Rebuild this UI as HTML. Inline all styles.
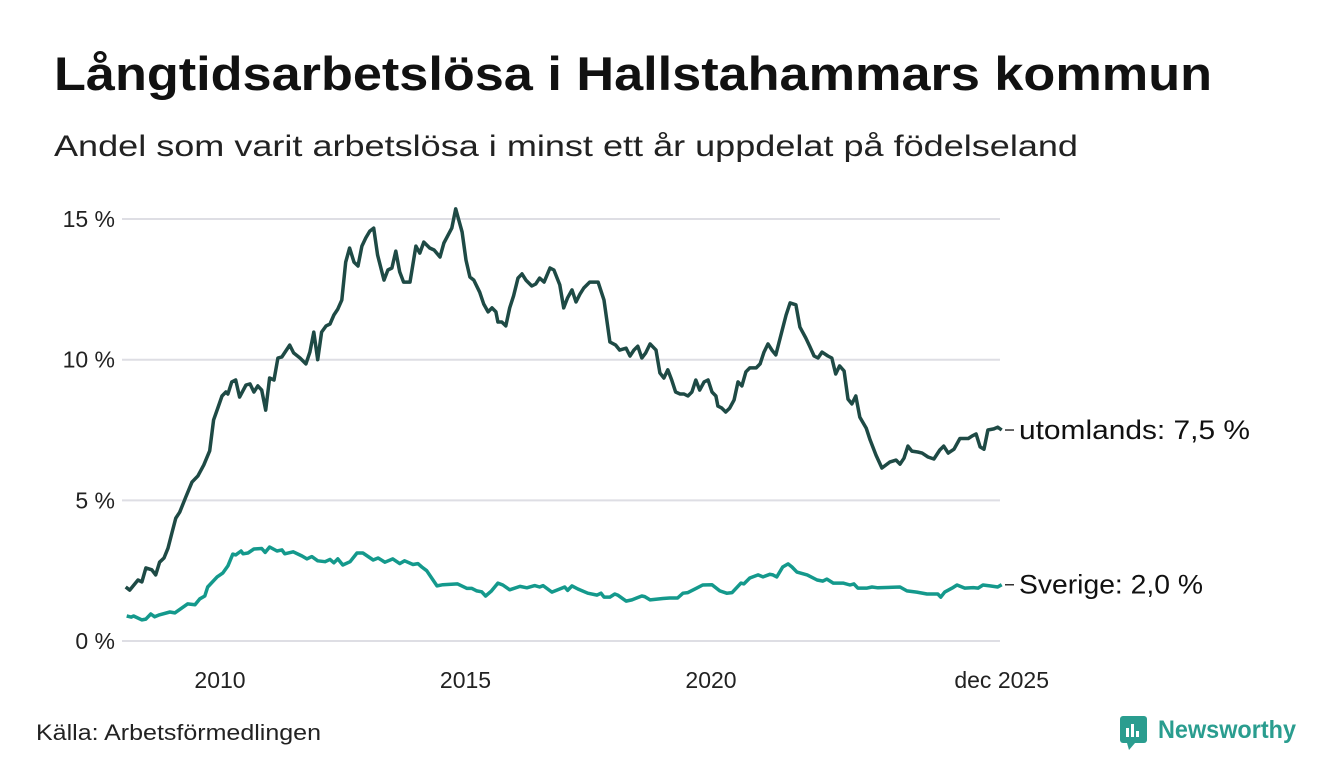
<!DOCTYPE html>
<html><head><meta charset="utf-8"><style>
body{margin:0;background:#fff;width:1340px;height:780px;overflow:hidden;font-family:"Liberation Sans",sans-serif;}
</style></head><body>
<svg width="1340" height="780" style="position:absolute;left:0;top:0">
<text x="54" y="90" font-size="47" font-weight="bold" fill="#111" textLength="1158" lengthAdjust="spacingAndGlyphs">Långtidsarbetslösa i Hallstahammars kommun</text>
<text x="54" y="156" font-size="30" fill="#222" textLength="1024" lengthAdjust="spacingAndGlyphs">Andel som varit arbetslösa i minst ett år uppdelat på födelseland</text>
<g id="grid"></g><g id="yt"></g><g id="xt"></g><g id="series"></g>
<text x="36" y="740" font-size="22" fill="#222" textLength="285" lengthAdjust="spacingAndGlyphs">Källa: Arbetsförmedlingen</text>
<g>
<rect x="1120" y="716" width="27" height="27" rx="3" fill="#2a9d8f"/>
<rect x="1126" y="728" width="3" height="9" fill="#fff"/><rect x="1131" y="724" width="3" height="13" fill="#fff"/><rect x="1136" y="731" width="3" height="6" fill="#fff"/>
<polygon points="1127,743 1135,743 1129,750" fill="#2a9d8f"/>
<text x="1158" y="738" font-size="25" font-weight="bold" fill="#2a9d8f" textLength="138" lengthAdjust="spacingAndGlyphs">Newsworthy</text></g>
</svg>
<script>
const yTicks=[0,5,10,15];
const yTickLabels=["0 %","5 %","10 %","15 %"];
const xTicks=[2010,2015,2020,2025.92];
const xTickLabels=["2010","2015","2020","dec 2025"];
const utYears=[2008.08,2008.16,2008.33,2008.41,2008.49,2008.61,2008.69,2008.77,2008.86,2008.94,2009.02,2009.10,2009.18,2009.30,2009.43,2009.55,2009.67,2009.79,2009.87,2009.96,2010.04,2010.12,2010.16,2010.24,2010.32,2010.40,2010.53,2010.61,2010.69,2010.77,2010.85,2010.93,2011.01,2011.10,2011.18,2011.26,2011.42,2011.50,2011.63,2011.75,2011.83,2011.91,2011.99,2012.07,2012.16,2012.24,2012.32,2012.40,2012.48,2012.56,2012.64,2012.73,2012.81,2012.89,2012.97,2013.05,2013.13,2013.21,2013.34,2013.42,2013.50,2013.58,2013.66,2013.74,2013.87,2013.99,2014.07,2014.15,2014.27,2014.36,2014.48,2014.56,2014.72,2014.80,2014.93,2015.01,2015.09,2015.17,2015.29,2015.37,2015.46,2015.54,2015.62,2015.66,2015.74,2015.82,2015.90,2015.98,2016.07,2016.15,2016.23,2016.35,2016.43,2016.51,2016.60,2016.72,2016.80,2016.92,2017.00,2017.08,2017.17,2017.25,2017.33,2017.41,2017.53,2017.70,2017.82,2017.94,2018.06,2018.14,2018.27,2018.35,2018.43,2018.51,2018.59,2018.67,2018.76,2018.88,2018.96,2019.04,2019.12,2019.20,2019.28,2019.37,2019.45,2019.53,2019.61,2019.69,2019.77,2019.86,2019.94,2020.02,2020.10,2020.14,2020.22,2020.30,2020.38,2020.47,2020.55,2020.63,2020.71,2020.79,2020.92,2021.00,2021.08,2021.16,2021.24,2021.32,2021.44,2021.53,2021.61,2021.73,2021.81,2021.93,2022.01,2022.10,2022.18,2022.26,2022.38,2022.46,2022.54,2022.62,2022.71,2022.79,2022.87,2022.95,2023.03,2023.16,2023.24,2023.36,2023.48,2023.64,2023.77,2023.85,2023.93,2024.01,2024.09,2024.21,2024.30,2024.42,2024.54,2024.66,2024.74,2024.83,2024.95,2025.07,2025.15,2025.24,2025.32,2025.40,2025.48,2025.56,2025.64,2025.76,2025.84,2025.92];
const utValues=[1.92,1.81,2.17,2.10,2.6,2.53,2.35,2.8,2.95,3.3,3.84,4.37,4.58,5.1,5.65,5.87,6.26,6.76,7.86,8.3,8.71,8.85,8.78,9.21,9.28,8.67,9.1,9.14,8.85,9.07,8.92,8.21,9.35,9.28,10.06,10.1,10.52,10.24,10.06,9.85,10.27,10.98,10.0,10.98,11.2,11.27,11.59,11.8,12.12,13.47,13.97,13.47,13.33,14.04,14.33,14.57,14.68,13.72,12.83,13.19,13.26,13.86,13.12,12.76,12.76,14.04,13.79,14.18,13.97,13.9,13.65,14.15,14.68,15.36,14.54,13.54,12.94,12.83,12.4,11.98,11.7,11.84,11.7,11.34,11.34,11.2,11.84,12.27,12.9,13.05,12.83,12.62,12.69,12.9,12.76,13.26,13.19,12.66,11.84,12.2,12.48,12.05,12.33,12.55,12.76,12.76,12.12,10.63,10.52,10.34,10.41,10.13,10.34,10.48,10.06,10.24,10.56,10.34,9.53,9.35,9.64,9.28,8.85,8.78,8.78,8.71,8.85,9.28,8.92,9.21,9.28,8.85,8.71,8.35,8.28,8.14,8.28,8.57,9.21,9.07,9.57,9.71,9.71,9.85,10.27,10.56,10.34,10.17,10.98,11.59,12.02,11.95,11.16,10.77,10.48,10.13,10.06,10.27,10.13,10.06,9.49,9.78,9.6,8.6,8.43,8.71,7.96,7.57,7.15,6.61,6.15,6.36,6.43,6.29,6.5,6.93,6.75,6.72,6.68,6.54,6.47,6.79,6.93,6.68,6.82,7.2,7.2,7.2,7.29,7.36,6.9,6.82,7.5,7.54,7.6,7.5];
const svYears=[2008.10,2008.19,2008.24,2008.41,2008.49,2008.59,2008.67,2008.77,2008.98,2009.08,2009.34,2009.49,2009.59,2009.69,2009.75,2009.94,2010.06,2010.16,2010.26,2010.32,2010.43,2010.47,2010.57,2010.69,2010.85,2010.92,2011.01,2011.16,2011.26,2011.32,2011.49,2011.67,2011.77,2011.87,2011.99,2012.14,2012.24,2012.32,2012.40,2012.50,2012.65,2012.79,2012.91,2013.12,2013.22,2013.36,2013.52,2013.66,2013.76,2013.93,2014.03,2014.11,2014.21,2014.42,2014.54,2014.84,2015.03,2015.13,2015.23,2015.33,2015.41,2015.53,2015.66,2015.76,2015.90,2016.11,2016.25,2016.41,2016.51,2016.58,2016.76,2017.02,2017.08,2017.17,2017.29,2017.49,2017.68,2017.76,2017.82,2017.94,2018.04,2018.10,2018.27,2018.39,2018.59,2018.65,2018.76,2019.02,2019.16,2019.32,2019.43,2019.53,2019.71,2019.83,2020.02,2020.18,2020.32,2020.43,2020.61,2020.67,2020.79,2020.96,2021.06,2021.20,2021.26,2021.34,2021.46,2021.57,2021.65,2021.75,2021.96,2022.16,2022.28,2022.36,2022.49,2022.69,2022.83,2022.91,2022.99,2023.18,2023.28,2023.40,2023.85,2023.99,2024.19,2024.40,2024.62,2024.68,2024.76,2024.91,2025.01,2025.17,2025.34,2025.44,2025.54,2025.68,2025.84,2025.92];
const svValues=[0.89,0.85,0.89,0.75,0.78,0.96,0.86,0.93,1.03,1.0,1.32,1.29,1.5,1.6,1.92,2.28,2.42,2.67,3.09,3.06,3.2,3.1,3.13,3.27,3.29,3.15,3.34,3.2,3.24,3.1,3.17,3.02,2.92,3.0,2.85,2.82,2.9,2.78,2.92,2.7,2.82,3.13,3.13,2.88,2.95,2.8,2.92,2.75,2.85,2.72,2.75,2.63,2.5,1.96,2.0,2.03,1.87,1.87,1.78,1.75,1.6,1.78,2.06,1.99,1.82,1.94,1.89,1.97,1.92,1.97,1.74,1.92,1.8,1.96,1.85,1.7,1.63,1.7,1.56,1.56,1.67,1.63,1.42,1.46,1.6,1.58,1.46,1.51,1.53,1.53,1.7,1.72,1.88,1.99,2.0,1.78,1.7,1.72,2.06,2.03,2.24,2.35,2.28,2.37,2.35,2.28,2.63,2.74,2.63,2.45,2.35,2.17,2.13,2.2,2.06,2.06,1.99,2.03,1.88,1.88,1.92,1.89,1.92,1.78,1.74,1.67,1.67,1.56,1.74,1.88,1.99,1.88,1.9,1.88,1.99,1.96,1.92,2.0];
const seriesLabels=["utomlands: 7,5 %","Sverige: 2,0 %"];
const NS="http://www.w3.org/2000/svg";
const X=t=>220+(t-2010)*49.1;
const Y=v=>641-v*28.13;
function mk(tag,attrs,parent,txt){const e=document.createElementNS(NS,tag);for(const k in attrs)e.setAttribute(k,attrs[k]);if(txt!==undefined)e.textContent=txt;document.getElementById(parent).appendChild(e);return e;}
yTicks.forEach((v,i)=>{
 const g=mk('line',{x1:122,x2:1000,y1:Y(v),y2:Y(v),stroke:'#dedee4','stroke-width':2},'grid');
 
 
 const t=mk('text',{x:115,y:Y(v)+8,'font-size':23,fill:'#222','text-anchor':'end'},'yt',yTickLabels[i]);
 
 
});
xTicks.forEach((v,i)=>{
 const t=mk('text',{x:X(v),y:688,'font-size':23,fill:'#222','text-anchor':'middle'},'xt',xTickLabels[i]);
 
 
});
function line(ys,vs,color,label,name,len){
 const d=ys.map((t,i)=>(i?'L':'M')+X(t).toFixed(1)+','+Y(vs[i]).toFixed(1)).join('');
 const p=mk('path',{d:d,fill:'none',stroke:color,'stroke-width':3.5,'stroke-linejoin':'round'},'series');
 
 
 const ly=Y(vs[vs.length-1]);
 mk('line',{x1:1005,x2:1014,y1:ly,y2:ly,stroke:'#333','stroke-width':1.5},'series');
 const t=mk('text',{x:1019,y:ly+9,'font-size':27,fill:'#111',textLength:len,lengthAdjust:'spacingAndGlyphs'},'series',label);
 
 
}
line(utYears,utValues,'#1e4a45',seriesLabels[0],'utomlands-line',231);
line(svYears,svValues,'#14998c',seriesLabels[1],'sverige-line',184);
</script>
</body></html>
